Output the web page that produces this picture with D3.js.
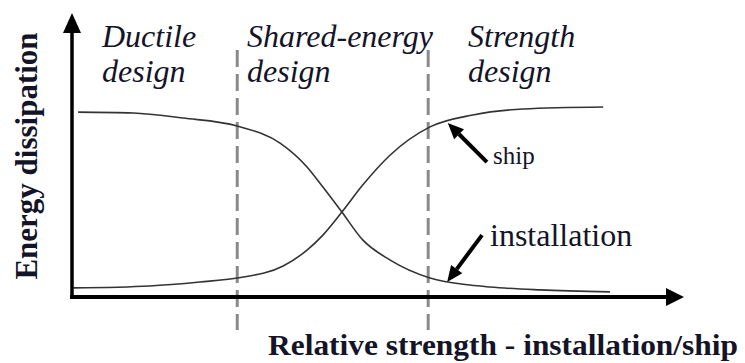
<!DOCTYPE html>
<html><head><meta charset="utf-8">
<script src="https://cdn.jsdelivr.net/npm/d3@7"></script>
<style>
html,body{margin:0;padding:0;background:#fff;}
svg{display:block;}
</style></head>
<body>
<svg id="chart" width="745" height="363"></svg>
<script>
// ---- data ----
const installationX = [1.0, 10.0, 18.1, 27.0, 34.0, 38.4, 41.0, 44.1, 47.5, 52.0, 58.5, 65.0, 68.3, 76.5, 87.9];
const installationY = [65.1, 64.8, 63.0, 60.2, 54.2, 45.8, 38.7, 29.9, 20.1, 13.0, 6.7, 4.2, 3.5, 2.5, 1.8];
const shipX = [0.2, 12.7, 20.9, 27.0, 34.5, 38.4, 41.0, 44.1, 47.5, 52.0, 58.5, 65.5, 73.7, 86.8];
const shipY = [3.2, 3.9, 5.3, 6.7, 10.9, 16.5, 21.8, 29.9, 39.4, 50.0, 59.9, 64.1, 66.2, 66.9];
const boundaries = [27.0, 58.2];
const zoneLabels = [["Ductile", "design"], ["Shared-energy", "design"], ["Strength", "design"]];
const seriesLabels = ["ship", "installation"];
const xTitle = "Relative strength - installation/ship";
const yTitle = "Energy dissipation";

// ---- scales ----
const svg = d3.select("#chart");
const x = d3.scaleLinear().domain([0, 100]).range([72, 684]);
const y = d3.scaleLinear().domain([0, 100]).range([297, 13]);

const line = d3.line().x(d => x(d[0])).y(d => y(d[1])).curve(d3.curveMonotoneX);
const inst = installationX.map((v, i) => [v, installationY[i]]);
const ship = shipX.map((v, i) => [v, shipY[i]]);

// dashed boundaries
svg.selectAll("line.bnd").data(boundaries).enter().append("line")
  .attr("class", "bnd")
  .attr("x1", d => x(d)).attr("x2", d => x(d))
  .attr("y1", 50).attr("y2", 330)
  .attr("stroke", "#8a8a8a").attr("stroke-width", 3)
  .attr("stroke-dasharray", "17,7");

// curves
[inst, ship].forEach(s => {
  svg.append("path").attr("d", line(s)).attr("fill", "none")
    .attr("stroke", "#333").attr("stroke-width", 1.6);
});

// axes
const x0 = x(0), y0 = y(0);
svg.append("line").attr("x1", x0).attr("y1", y0 + 1.5).attr("x2", x0).attr("y2", 30)
  .attr("stroke", "#000").attr("stroke-width", 3.5);
svg.append("path").attr("d", `M${x0},13 L${x0 - 9},33 L${x0 + 9},33 Z`).attr("fill", "#000");
svg.append("line").attr("x1", x0 - 2).attr("y1", y0).attr("x2", 670).attr("y2", y0)
  .attr("stroke", "#000").attr("stroke-width", 4);
svg.append("path").attr("d", `M684,${y0} L666,${y0 - 9} L666,${y0 + 9} Z`).attr("fill", "#000");

// zone labels
const zoneX = [102, 247, 468];
zoneLabels.forEach((lines, i) => {
  lines.forEach((t, j) => {
    svg.append("text").attr("x", zoneX[i]).attr("y", 47 + j * 35)
      .attr("font-family", "'Liberation Serif', serif").attr("font-style", "italic")
      .attr("font-size", 32).attr("fill", "#141428").text(t);
  });
});

// annotation arrows
function arrow(from, to, w) {
  const x1 = x(from[0]), y1 = y(from[1]), x2 = x(to[0]), y2 = y(to[1]);
  const a = Math.atan2(y2 - y1, x2 - x1);
  const L = 16, H = 7;
  const bx = x2 - L * Math.cos(a), by = y2 - L * Math.sin(a);
  svg.append("line").attr("x1", x1).attr("y1", y1).attr("x2", bx).attr("y2", by)
    .attr("stroke", "#000").attr("stroke-width", w);
  svg.append("path").attr("d",
    `M${x2},${y2} L${bx + H * Math.sin(a)},${by - H * Math.cos(a)} L${bx - H * Math.sin(a)},${by + H * Math.cos(a)} Z`)
    .attr("fill", "#000");
}
arrow([67.8, 47.5], [61.4, 61.3], 4);
arrow([67.0, 21.8], [61.3, 5.3], 4);

svg.append("text").attr("x", 493).attr("y", 164)
  .attr("font-family", "'Liberation Serif', serif").attr("font-size", 25)
  .attr("fill", "#141428").text(seriesLabels[0]);
svg.append("text").attr("x", 490).attr("y", 246)
  .attr("font-family", "'Liberation Serif', serif").attr("font-size", 32)
  .attr("fill", "#141428").text(seriesLabels[1]);

// axis titles
svg.append("text").attr("x", 268).attr("y", 355)
  .attr("font-family", "'Liberation Serif', serif").attr("font-weight", "bold")
  .attr("font-size", 30).attr("textLength", 470).attr("lengthAdjust", "spacingAndGlyphs")
  .attr("fill", "#141428").text(xTitle);
svg.append("text").attr("transform", "translate(37,156) rotate(-90)")
  .attr("text-anchor", "middle")
  .attr("font-family", "'Liberation Serif', serif").attr("font-weight", "bold")
  .attr("font-size", 31).attr("fill", "#141428").text(yTitle);
</script>
</body></html>
